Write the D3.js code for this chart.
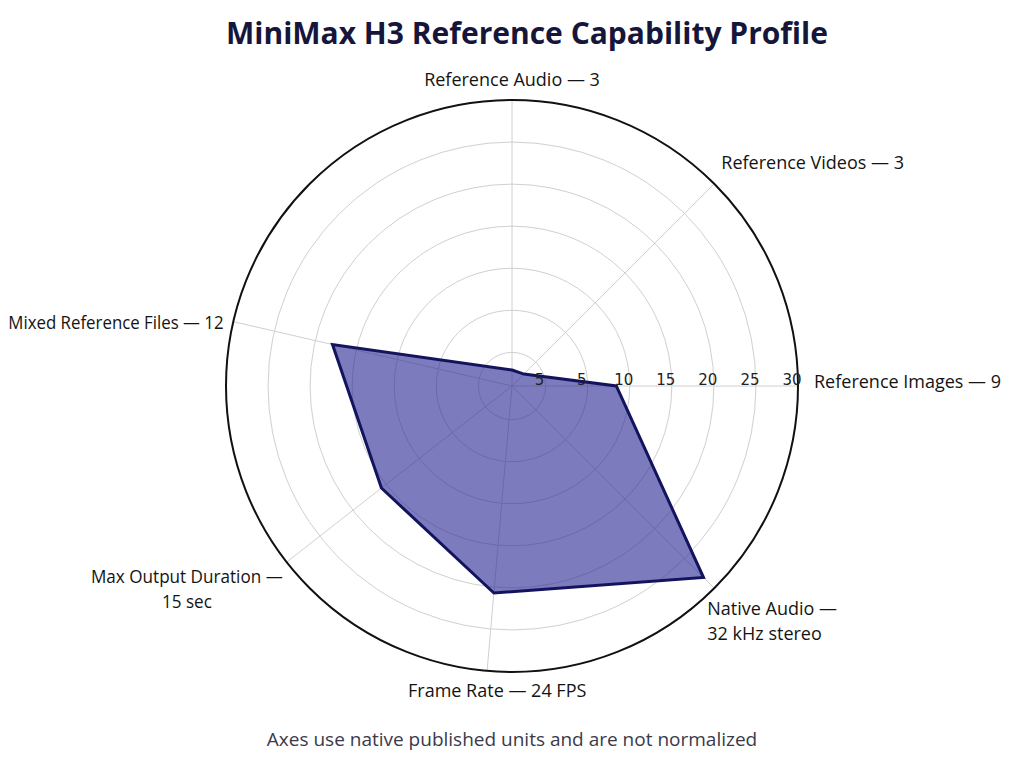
<!DOCTYPE html>
<html>
<head>
<meta charset="utf-8">
<script src="https://cdn.jsdelivr.net/npm/d3@7"></script>
<style>
  html, body { margin: 0; padding: 0; background: #ffffff; }
  svg { display: block; }
</style>
</head>
<body>
<svg id="chart" width="1024" height="768"></svg>
<script>
// ---------------- DATA ----------------
const categories = [
  "Reference Audio", "Reference Videos", "Reference Images", "Native Audio",
  "Frame Rate", "Max Output Duration", "Mixed Reference Files"
];
// axis label texts as shown (lines)
const axisLabels = [
  ["Reference Audio \u2014 3"],
  ["Reference Videos \u2014 3"],
  ["Reference Images \u2014 9"],
  ["Native Audio \u2014", "32 kHz stereo"],
  ["Frame Rate \u2014 24 FPS"],
  ["Max Output Duration \u2014", "15 sec"],
  ["Mixed Reference Files \u2014 12"]
];
// plotted radial values
const plottedValues = [-2.1, -2.0, 8.4, 28.2, 20.7, 15.7, 17.9];
const tickValues = [0, 5, 10, 15, 20, 25, 30];
const tickLabels = ["5", "5", "10", "15", "20", "25", "30"];
const radialDomain = [-4, 30];
const titleText = "MiniMax H3 Reference Capability Profile";
const footnoteText = "Axes use native published units and are not normalized";

// ---------------- LAYOUT ----------------
const W = 1024, H = 768;
const cx = 512, cy = 386, R = 286;
// axis directions in degrees (counter-clockwise from east)
const axisAngleDeg = [90, 45, 0, -45, -95, -142, 167];
// small label nudges [dx, dy], multi-line alignment, horizontal squeeze
const labelNudge = [[0, 0], [0, -4], [6, -3], [-14, 5], [11, 2], [4, 0], [0, 4]];
const labelAlign = ["middle", "start", "start", "start", "middle", "middle", "end"];
const labelSqueeze = [1, 1, 1, 1, 1, 0.95, 0.935];
const FONT = "'Open Sans', 'Noto Sans', sans-serif";

const svg = d3.select("#chart");
svg.append("rect").attr("width", W).attr("height", H).attr("fill", "#ffffff");

const r = d3.scaleLinear().domain(radialDomain).range([0, R]);
const toRad = d => d * Math.PI / 180;
const px = (i, v) => cx + r(v) * Math.cos(toRad(axisAngleDeg[i]));
const py = (i, v) => cy - r(v) * Math.sin(toRad(axisAngleDeg[i]));

const g = svg.append("g");

// grid circles
g.selectAll("circle.grid")
  .data(tickValues.slice(0, -1))
  .join("circle")
  .attr("class", "grid")
  .attr("cx", cx).attr("cy", cy)
  .attr("r", d => r(d))
  .attr("fill", "none")
  .attr("stroke", "#d0d0d0")
  .attr("stroke-width", 1);

// spokes
g.selectAll("line.spoke")
  .data(categories)
  .join("line")
  .attr("class", "spoke")
  .attr("x1", cx).attr("y1", cy)
  .attr("x2", (d, i) => px(i, radialDomain[1]))
  .attr("y2", (d, i) => py(i, radialDomain[1]))
  .attr("stroke", "#d0d0d0")
  .attr("stroke-width", 1);

// polygon
const line = d3.line().curve(d3.curveLinearClosed);
g.append("path")
  .datum(plottedValues.map((v, i) => [px(i, v), py(i, v)]))
  .attr("d", line)
  .attr("fill", "#2a2a96")
  .attr("fill-opacity", 0.62)
  .attr("stroke", "#14145e")
  .attr("stroke-width", 3)
  .attr("stroke-linejoin", "miter");

// outer circle
g.append("circle")
  .attr("cx", cx).attr("cy", cy).attr("r", R)
  .attr("fill", "none")
  .attr("stroke", "#111111")
  .attr("stroke-width", 2);

// radial tick labels along the east axis
g.selectAll("text.tick")
  .data(tickValues)
  .join("text")
  .attr("class", "tick")
  .attr("x", d => cx + r(d) - 6)
  .attr("y", cy - 1)
  .attr("text-anchor", "middle")
  .attr("font-family", "'DejaVu Sans', sans-serif")
  .attr("font-size", 15)
  .attr("fill", "#222222")
  .text((d, i) => tickLabels[i]);

// axis labels
const lineH = 25, fs = 18, pad = 10;
axisLabels.forEach((lines, i) => {
  const a = toRad(axisAngleDeg[i]);
  const c = Math.cos(a), s = Math.sin(a);
  const ax = cx + (R + pad) * c + labelNudge[i][0];
  const ay = cy - (R + pad) * s + labelNudge[i][1];
  const t = g.append("text")
    .attr("font-family", FONT)
    .attr("font-size", fs)
    .attr("fill", "#141414");
  lines.forEach((ln, k) => {
    t.append("tspan").attr("x", 0).attr("dy", k === 0 ? 0 : lineH).text(ln);
  });
  const tspans = t.selectAll("tspan").nodes();
  const widths = tspans.map(n => n.getComputedTextLength() * labelSqueeze[i]);
  if (labelSqueeze[i] !== 1) {
    t.selectAll("tspan")
      .attr("textLength", (d, k) => widths[k])
      .attr("lengthAdjust", "spacingAndGlyphs");
  }
  const bw = d3.max(widths);
  const bh = lineH * (lines.length - 1) + fs;
  let left;
  if (c > 0.25) left = ax;
  else if (c < -0.25) left = ax - bw;
  else left = ax - bw / 2;
  let top;
  if (s > 0.25) top = ay - bh;
  else if (s < -0.25) top = ay;
  else top = ay - bh / 2;
  const al = labelAlign[i];
  const lx = al === "start" ? left : al === "end" ? left + bw : left + bw / 2;
  t.selectAll("tspan")
    .attr("x", lx)
    .attr("text-anchor", al);
  t.attr("transform", `translate(0, ${top + fs * 0.8})`);
});

// title
svg.append("text")
  .attr("x", W / 2 + 15).attr("y", 44)
  .attr("text-anchor", "middle")
  .attr("font-family", FONT)
  .attr("font-weight", 700)
  .attr("font-size", 30)
  .attr("fill", "#15163a")
  .text(titleText);

// footnote
svg.append("text")
  .attr("x", W / 2).attr("y", 746)
  .attr("text-anchor", "middle")
  .attr("font-family", FONT)
  .attr("font-size", 19)
  .attr("fill", "#3a3a4a")
  .text(footnoteText);
</script>
</body>
</html>
